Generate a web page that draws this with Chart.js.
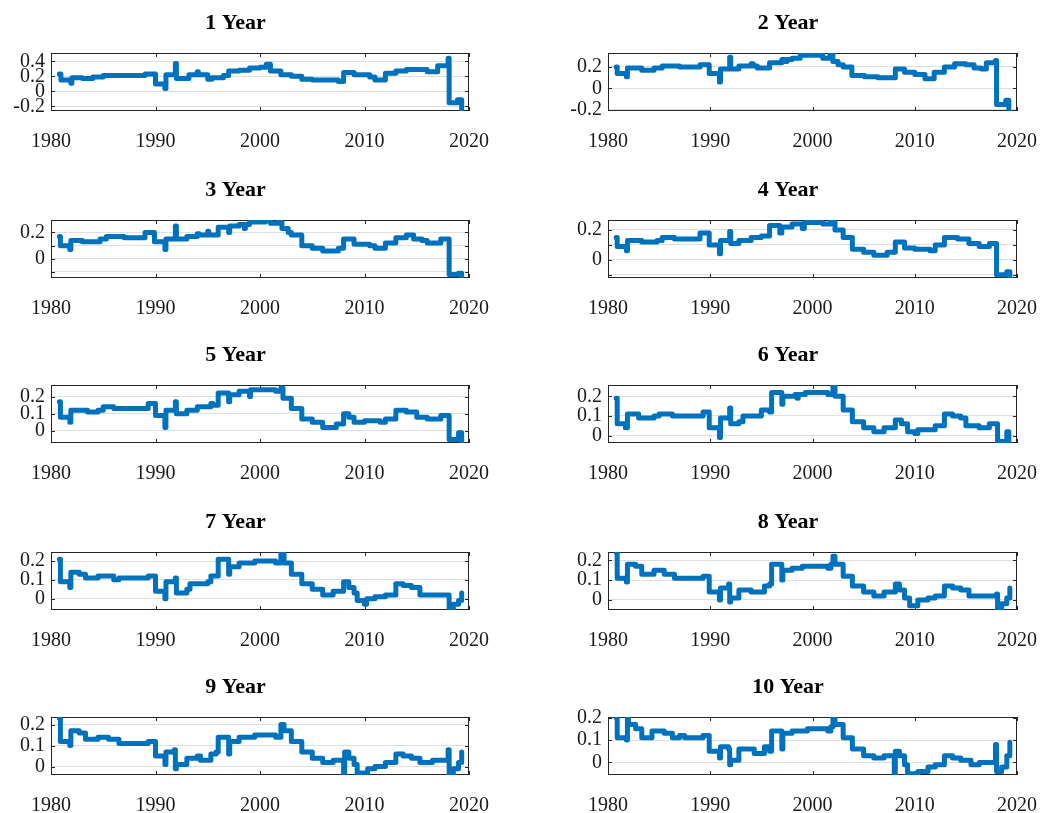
<!DOCTYPE html>
<html><head><meta charset="utf-8">
<script src="https://cdn.jsdelivr.net/npm/chart.js@4.4.1/dist/chart.umd.min.js"></script>
<style>
html,body{margin:0;padding:0;background:#fff;overflow:hidden;width:1064px;height:813px;}
canvas{position:absolute;}
</style></head><body>
<script>
// ---------- data ----------
const titles = ['1 Year','2 Year','3 Year','4 Year','5 Year','6 Year','7 Year','8 Year','9 Year','10 Year'];
const xTicks = [1980,1990,2000,2010,2020];

const year1 = [[1980.8,0.23],[1980.95,0.15],[1981.9,0.11],[1982.0,0.18],[1983.0,0.17],[1984.0,0.19],[1985.0,0.21],[1987.0,0.21],[1989.0,0.23],[1990.0,0.10],[1990.9,0.04],[1991.0,0.22],[1991.9,0.37],[1992.0,0.17],[1993.2,0.22],[1994.0,0.26],[1994.1,0.22],[1995.0,0.16],[1995.4,0.18],[1996.5,0.21],[1997.0,0.27],[1998.0,0.28],[1999.0,0.31],[2000.0,0.32],[2000.6,0.36],[2001.0,0.27],[2002.0,0.22],[2003.0,0.20],[2004.0,0.16],[2005.0,0.15],[2007.5,0.13],[2008.0,0.25],[2009.0,0.22],[2010.5,0.19],[2011.0,0.15],[2012.0,0.24],[2013.0,0.27],[2014.0,0.29],[2016.0,0.26],[2017.0,0.34],[2018.0,0.44],[2018.1,-0.15],[2018.9,-0.11],[2019.3,-0.25]];
const year2 = [[1980.8,0.20],[1980.9,0.14],[1981.8,0.11],[1981.9,0.19],[1983.3,0.17],[1984.5,0.19],[1985.3,0.21],[1987.0,0.20],[1989.0,0.22],[1989.9,0.14],[1990.9,0.06],[1991.0,0.18],[1991.9,0.29],[1992.0,0.18],[1992.8,0.21],[1994.0,0.23],[1994.2,0.21],[1994.6,0.19],[1995.8,0.24],[1997.0,0.27],[1997.3,0.25],[1997.5,0.27],[1998.0,0.28],[1998.8,0.31],[2000.0,0.31],[2000.7,0.33],[2001.0,0.28],[2001.7,0.31],[2002.0,0.25],[2002.5,0.22],[2003.0,0.20],[2003.85,0.12],[2005.1,0.11],[2006.4,0.10],[2008.1,0.18],[2009.0,0.15],[2010.0,0.13],[2011.0,0.09],[2011.9,0.15],[2012.9,0.20],[2013.9,0.23],[2015.0,0.22],[2015.8,0.19],[2016.5,0.18],[2017.0,0.24],[2017.9,0.26],[2018.0,-0.15],[2018.9,-0.11],[2019.2,-0.21]];
const year3 = [[1980.8,0.17],[1980.9,0.10],[1981.8,0.07],[1981.9,0.14],[1983.0,0.13],[1984.7,0.15],[1985.3,0.17],[1987.0,0.16],[1989.0,0.20],[1989.9,0.13],[1990.9,0.07],[1991.0,0.15],[1991.9,0.25],[1992.0,0.15],[1993.0,0.17],[1994.0,0.19],[1994.2,0.18],[1995.0,0.21],[1995.1,0.18],[1996.0,0.24],[1997.0,0.20],[1997.1,0.25],[1998.0,0.26],[1998.5,0.23],[1998.6,0.26],[1999.0,0.28],[2000.5,0.29],[2000.8,0.30],[2001.0,0.27],[2001.8,0.29],[2002.1,0.23],[2002.7,0.20],[2003.0,0.18],[2004.0,0.10],[2005.0,0.08],[2006.0,0.06],[2007.5,0.08],[2008.0,0.15],[2009.0,0.11],[2010.5,0.10],[2011.0,0.08],[2012.0,0.12],[2013.0,0.16],[2014.0,0.18],[2014.7,0.15],[2015.5,0.14],[2016.0,0.12],[2017.3,0.15],[2018.1,-0.12],[2019.0,-0.11],[2019.3,-0.14]];
const year4 = [[1980.8,0.15],[1980.9,0.09],[1981.8,0.06],[1981.9,0.13],[1983.3,0.12],[1984.8,0.13],[1985.3,0.15],[1986.5,0.14],[1989.0,0.18],[1989.9,0.10],[1990.9,0.04],[1991.0,0.13],[1991.9,0.19],[1992.0,0.11],[1992.8,0.13],[1994.0,0.15],[1995.0,0.16],[1995.8,0.23],[1996.8,0.18],[1997.0,0.22],[1998.0,0.24],[1999.0,0.21],[1999.2,0.25],[2001.0,0.24],[2001.8,0.26],[2002.2,0.20],[2003.0,0.15],[2003.9,0.07],[2005.0,0.05],[2006.0,0.03],[2007.3,0.05],[2008.1,0.12],[2009.0,0.08],[2010.0,0.07],[2011.5,0.06],[2012.0,0.10],[2012.9,0.15],[2014.2,0.14],[2015.3,0.11],[2016.3,0.09],[2017.3,0.11],[2018.0,-0.10],[2019.0,-0.08],[2019.3,-0.12]];
const year5 = [[1980.8,0.17],[1980.9,0.08],[1981.8,0.05],[1981.9,0.12],[1983.5,0.11],[1984.5,0.12],[1985.0,0.14],[1986.0,0.13],[1989.3,0.16],[1990.0,0.09],[1990.9,0.02],[1991.0,0.12],[1991.9,0.17],[1992.0,0.10],[1993.0,0.12],[1994.0,0.14],[1995.3,0.16],[1995.5,0.15],[1996.0,0.22],[1997.0,0.17],[1997.1,0.21],[1998.0,0.23],[1999.0,0.20],[1999.1,0.24],[2001.5,0.23],[2002.0,0.25],[2002.2,0.19],[2003.0,0.13],[2004.0,0.07],[2005.0,0.05],[2006.0,0.02],[2007.3,0.04],[2008.0,0.10],[2008.5,0.08],[2009.0,0.05],[2010.0,0.06],[2011.5,0.05],[2012.0,0.07],[2013.0,0.12],[2014.0,0.11],[2015.0,0.08],[2016.0,0.07],[2017.3,0.09],[2018.1,-0.05],[2019.0,-0.01],[2019.3,-0.07]];
const year6 = [[1980.8,0.19],[1980.9,0.06],[1981.7,0.04],[1981.9,0.11],[1983.0,0.09],[1984.5,0.10],[1985.0,0.11],[1986.3,0.10],[1989.3,0.12],[1989.9,0.04],[1990.9,-0.01],[1991.0,0.09],[1991.9,0.14],[1992.0,0.06],[1992.8,0.07],[1993.2,0.10],[1995.0,0.13],[1995.8,0.12],[1996.0,0.22],[1997.0,0.16],[1997.1,0.20],[1998.3,0.21],[1998.5,0.19],[1998.6,0.21],[1999.3,0.22],[2001.5,0.21],[2002.0,0.25],[2002.2,0.20],[2003.0,0.13],[2003.9,0.07],[2005.0,0.04],[2006.0,0.02],[2007.0,0.04],[2008.1,0.08],[2008.7,0.06],[2009.3,0.02],[2010.0,0.01],[2010.3,0.03],[2012.0,0.05],[2012.9,0.11],[2013.7,0.10],[2014.5,0.09],[2015.0,0.05],[2016.3,0.04],[2017.3,0.06],[2018.1,-0.03],[2019.0,0.02],[2019.2,-0.04]];
const year7 = [[1980.8,0.21],[1980.9,0.09],[1981.8,0.06],[1981.9,0.14],[1982.7,0.13],[1983.3,0.11],[1984.5,0.12],[1986.0,0.10],[1986.5,0.11],[1989.3,0.12],[1990.0,0.04],[1990.9,0.00],[1991.0,0.09],[1991.9,0.11],[1992.0,0.03],[1993.0,0.05],[1993.3,0.08],[1995.0,0.09],[1995.3,0.12],[1996.0,0.21],[1997.0,0.13],[1997.1,0.17],[1998.0,0.19],[1999.5,0.20],[2001.5,0.19],[2002.0,0.24],[2002.3,0.19],[2003.0,0.13],[2004.0,0.08],[2005.0,0.05],[2006.0,0.02],[2007.0,0.04],[2008.0,0.09],[2008.5,0.06],[2009.0,0.03],[2009.3,-0.01],[2010.0,-0.03],[2010.2,0.00],[2011.0,0.01],[2012.0,0.02],[2013.0,0.08],[2013.7,0.07],[2014.5,0.06],[2015.3,0.02],[2018.1,-0.06],[2018.5,-0.03],[2019.0,-0.01],[2019.3,0.03]];
const year8 = [[1980.8,0.24],[1980.9,0.11],[1981.8,0.09],[1981.9,0.18],[1982.7,0.17],[1983.3,0.13],[1984.5,0.15],[1985.5,0.13],[1986.5,0.11],[1989.3,0.12],[1989.9,0.04],[1990.9,0.00],[1991.0,0.06],[1991.8,0.08],[1991.9,-0.01],[1992.0,0.01],[1992.8,0.05],[1994.0,0.04],[1995.3,0.07],[1995.8,0.08],[1996.0,0.18],[1997.0,0.10],[1997.1,0.15],[1998.0,0.16],[1999.0,0.17],[2001.5,0.16],[2001.8,0.18],[2002.0,0.22],[2002.2,0.18],[2003.0,0.12],[2003.9,0.07],[2005.0,0.04],[2006.0,0.02],[2007.0,0.04],[2008.1,0.08],[2008.5,0.05],[2009.0,0.01],[2009.5,-0.03],[2010.3,0.00],[2011.3,0.01],[2012.0,0.02],[2012.9,0.07],[2013.7,0.06],[2014.5,0.05],[2015.3,0.02],[2018.0,0.03],[2018.1,-0.05],[2018.5,-0.02],[2019.0,0.01],[2019.3,0.06]];
const year9 = [[1980.8,0.23],[1980.9,0.12],[1981.8,0.10],[1981.9,0.17],[1982.7,0.16],[1983.3,0.13],[1984.5,0.14],[1985.5,0.13],[1986.5,0.11],[1989.3,0.12],[1990.0,0.05],[1990.9,0.01],[1991.0,0.07],[1991.8,0.08],[1991.9,-0.01],[1992.0,0.01],[1993.0,0.04],[1994.0,0.05],[1994.3,0.03],[1995.3,0.06],[1995.8,0.07],[1996.0,0.14],[1997.0,0.06],[1997.1,0.12],[1998.0,0.14],[1999.5,0.15],[2001.5,0.14],[2002.0,0.20],[2002.3,0.17],[2003.0,0.12],[2004.0,0.07],[2005.0,0.04],[2006.0,0.02],[2007.0,0.03],[2008.0,-0.04],[2008.1,0.07],[2008.5,0.04],[2009.0,0.01],[2009.3,-0.03],[2010.3,-0.01],[2011.0,0.00],[2012.0,0.02],[2013.0,0.06],[2013.7,0.05],[2014.5,0.04],[2015.3,0.02],[2016.5,0.03],[2018.0,0.08],[2018.1,-0.04],[2018.5,-0.01],[2019.0,0.02],[2019.3,0.07]];
const year10 = [[1980.8,0.20],[1980.9,0.11],[1981.8,0.10],[1981.9,0.20],[1982.0,0.17],[1982.7,0.15],[1983.3,0.11],[1984.3,0.14],[1985.5,0.13],[1986.3,0.11],[1987.0,0.12],[1987.5,0.11],[1989.3,0.12],[1989.9,0.05],[1990.9,0.02],[1991.0,0.07],[1991.8,0.06],[1991.9,-0.01],[1992.0,0.01],[1992.8,0.06],[1994.3,0.04],[1995.3,0.07],[1995.8,0.05],[1996.0,0.14],[1997.0,0.06],[1997.1,0.13],[1998.0,0.14],[1999.5,0.15],[2001.5,0.14],[2001.8,0.16],[2002.0,0.20],[2002.2,0.17],[2003.0,0.11],[2003.9,0.06],[2005.0,0.03],[2006.0,0.02],[2007.0,0.03],[2008.0,-0.07],[2008.1,0.05],[2008.5,0.03],[2009.0,-0.01],[2009.3,-0.05],[2010.3,-0.04],[2011.3,-0.02],[2012.0,-0.01],[2012.9,0.03],[2013.7,0.02],[2014.5,0.01],[2015.5,-0.01],[2016.3,0.00],[2017.9,0.08],[2018.0,-0.04],[2018.5,-0.02],[2019.0,0.03],[2019.3,0.09]];

const yMin = [-0.26,-0.21,-0.146,-0.122,-0.07,-0.038,-0.06,-0.051,-0.04,-0.056];
const yMax = [0.51,0.33,0.295,0.267,0.267,0.258,0.248,0.242,0.236,0.203];
const yGrid = [[-0.2,0,0.2,0.4],[-0.2,0,0.2],[-0.1,0,0.1,0.2],[-0.1,0,0.1,0.2],[0,0.1,0.2],[0,0.1,0.2],[0,0.1,0.2],[0,0.1,0.2],[0,0.1,0.2],[0,0.1,0.2]];
const yLabels = [[-0.2,0,0.2,0.4],[-0.2,0,0.2],[0,0.2],[0,0.2],[0,0.1,0.2],[0,0.1,0.2],[0,0.1,0.2],[0,0.1,0.2],[0,0.1,0.2],[0,0.1,0.2]];
const series = [year1,year2,year3,year4,year5,year6,year7,year8,year9,year10];

// ---------- layout ----------
const rowTops = [53,220,385,552,717];
const TITLE_H = 45, PLOT_H = 58, XAXIS_H = 40, YAXIS_W = 51, RIGHT_PAD = 29;
const cols = [{left:0,width:500},{left:557,width:491}];
const FONT = "'Liberation Serif','Times New Roman',serif";
const TITLE_SIZE = 22;

const framePlugin = {
  id:'frame',
  beforeDatasetsDraw(chart){
    const {ctx, chartArea:a, scales:{x,y}} = chart;
    ctx.save();
    ctx.strokeStyle = '#262626'; ctx.lineWidth = 1;
    ctx.strokeRect(Math.round(a.left)+0.5, Math.round(a.top)+0.5, Math.round(a.width)-1, Math.round(a.height)-1);
    ctx.beginPath();
    x.ticks.forEach(t => {
      const px = Math.round(x.getPixelForValue(t.value)) + 0.5;
      ctx.moveTo(px, a.bottom); ctx.lineTo(px, a.bottom - 4);
      ctx.moveTo(px, a.top); ctx.lineTo(px, a.top + 4);
    });
    y.ticks.forEach(t => {
      const py = Math.round(y.getPixelForValue(t.value)) + 0.5;
      ctx.moveTo(a.left, py); ctx.lineTo(a.left + 4, py);
      ctx.moveTo(a.right, py); ctx.lineTo(a.right - 4, py);
    });
    ctx.stroke();
    ctx.restore();
  }
};

const fmt = v => { const r = Math.round(v*10)/10; return r === 0 ? '0' : String(r); };

series.forEach((pts, i) => {
  const row = Math.floor(i/2), col = cols[i%2];
  const cv = document.createElement('canvas');
  const h = TITLE_H + PLOT_H + XAXIS_H;
  cv.width = col.width; cv.height = h;
  cv.style.left = col.left + 'px';
  cv.style.top = (rowTops[row] - TITLE_H) + 'px';
  cv.style.width = col.width + 'px'; cv.style.height = h + 'px';
  document.body.appendChild(cv);
  const grid = yGrid[i], labs = yLabels[i];
  new Chart(cv, {
    type: 'line',
    data: { datasets: [{
      data: pts.map(([x,y]) => ({x, y})),
      stepped: true,
      borderColor: '#0072BD',
      borderWidth: 5,
      borderJoinStyle: 'round',
      borderCapStyle: 'round',
      pointRadius: 0,
      fill: false
    }]},
    options: {
      responsive: false,
      animation: false,
      layout: { padding: { left: 0, right: RIGHT_PAD, top: 0, bottom: 0 } },
      plugins: {
        legend: { display: false },
        tooltip: { enabled: false },
        title: {
          display: true, text: titles[i], color: '#000',
          font: { family: FONT, size: TITLE_SIZE, weight: 'bold', lineHeight: 1.2 },
          padding: { top: 2, bottom: TITLE_H - 2 - TITLE_SIZE * 1.2 }
        }
      },
      scales: {
        x: {
          type: 'linear', min: 1980, max: 2020,
          afterBuildTicks: s => { s.ticks = xTicks.map(v => ({value: v})); },
          afterFit: s => { s.height = XAXIS_H; },
          grid: { display: false },
          border: { display: false },
          ticks: { padding: 11, color: '#1a1a1a', maxRotation: 0, autoSkip: false,
                   font: { family: FONT, size: 20 }, callback: v => String(v) }
        },
        y: {
          type: 'linear', min: yMin[i], max: yMax[i],
          afterBuildTicks: s => { s.ticks = grid.map(v => ({value: v})); },
          afterFit: s => { s.width = YAXIS_W; },
          grid: { color: '#dfdfdf', lineWidth: 1, drawTicks: false },
          border: { display: false },
          ticks: { padding: 6, color: '#1a1a1a', autoSkip: false,
                   font: { family: FONT, size: 20 },
                   callback: v => labs.some(l => Math.abs(l - v) < 1e-9) ? fmt(v) : '' }
        }
      }
    },
    plugins: [framePlugin]
  });
});
</script>
</body></html>
